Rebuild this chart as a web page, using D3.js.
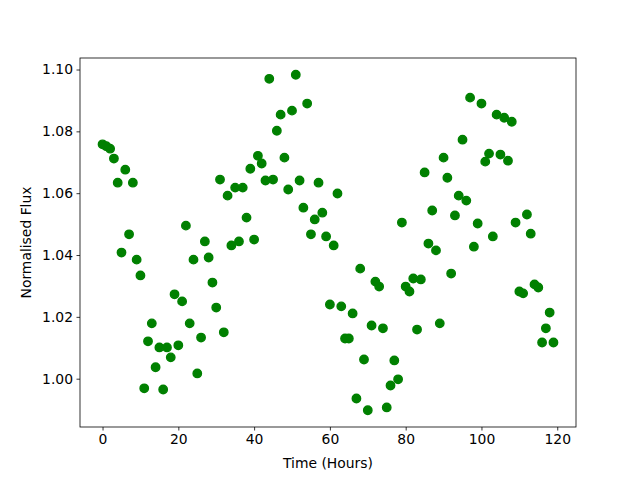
<!DOCTYPE html>
<html>
<head>
<meta charset="utf-8">
<script src="https://cdn.jsdelivr.net/npm/d3@7"></script>
<style>
  html, body { margin: 0; padding: 0; background: #fff; }
  text { font-family: 'DejaVu Sans', sans-serif; fill: #000; }
</style>
</head>
<body>
<div id="chart"></div>
<script>
// hours since start of observation
const hours = d3.range(0, 120);

// normalised flux, one reading per hour
const flux = [
  1.0758, 1.0752, 1.0744, 1.0712, 1.0634, 1.0408, 1.0676, 1.0467, 1.0634, 1.0385,
  1.0334, 0.9969, 1.0121, 1.0179, 1.0037, 1.0101, 0.9965, 1.0101, 1.0069, 1.0273,
  1.0108, 1.0250, 1.0495, 1.0179, 1.0385, 1.0017, 1.0133, 1.0444, 1.0392, 1.0311,
  1.0230, 1.0644, 1.0150, 1.0592, 1.0431, 1.0618, 1.0444, 1.0618, 1.0521, 1.0679,
  1.0450, 1.0721, 1.0696, 1.0641, 1.0970, 1.0644, 1.0802, 1.0854, 1.0715, 1.0612,
  1.0867, 1.0983, 1.0641, 1.0553, 1.0890, 1.0467, 1.0515, 1.0634, 1.0537, 1.0460,
  1.0240, 1.0431, 1.0599, 1.0234, 1.0130, 1.0130, 1.0211, 0.9936, 1.0356, 1.0062,
  0.9898, 1.0172, 1.0314, 1.0298, 1.0163, 0.9907, 0.9978, 1.0059, 0.9998, 1.0505,
  1.0298, 1.0282, 1.0324, 1.0159, 1.0321, 1.0667, 1.0437, 1.0544, 1.0415, 1.0179,
  1.0715, 1.0650, 1.0340, 1.0528, 1.0592, 1.0773, 1.0576, 1.0909, 1.0427, 1.0502,
  1.0890, 1.0702, 1.0728, 1.0460, 1.0854, 1.0725, 1.0844, 1.0705, 1.0831, 1.0505,
  1.0282, 1.0276, 1.0531, 1.0469, 1.0305, 1.0295, 1.0117, 1.0163, 1.0214, 1.0117
];

const xTicks = [0, 20, 40, 60, 80, 100, 120];
const yTicks = [1.00, 1.02, 1.04, 1.06, 1.08, 1.10];

const points = hours.map((h, i) => ({ time: h, flux: flux[i] }));

const margin = { top: 58, right: 64, bottom: 53, left: 80 };
const width = 640 - margin.left - margin.right;
const height = 480 - margin.top - margin.bottom;

const svg = d3
  .select('#chart')
  .append('svg')
  .attr('width', 640)
  .attr('height', 480);

const g = svg
  .append('g')
  .attr('transform', `translate(${margin.left},${margin.top})`);

// matplotlib style 5% padding around the data
function padded(ext) {
  const pad = (ext[1] - ext[0]) * 0.05;
  return [ext[0] - pad, ext[1] + pad];
}

const x = d3
  .scaleLinear()
  .domain(padded(d3.extent(points, (d) => d.time)))
  .range([0, width]);

const y = d3
  .scaleLinear()
  .domain(padded(d3.extent(points, (d) => d.flux)))
  .range([height, 0]);

// Points
g.selectAll('.dot')
  .data(points)
  .enter()
  .append('circle')
  .attr('class', 'dot')
  .attr('cx', (d) => x(d.time))
  .attr('cy', (d) => y(d.flux))
  .attr('r', 4.2)
  .attr('fill', '#008000')
  .attr('stroke', '#008000')
  .attr('stroke-width', 1.4);

// Axes
const xAxis = g
  .append('g')
  .attr('transform', `translate(0,${height})`)
  .call(d3.axisBottom(x).tickValues(xTicks).tickSize(3.5).tickPadding(3.5).tickSizeOuter(0));

const yAxis = g
  .append('g')
  .call(d3.axisLeft(y).tickValues(yTicks).tickFormat(d3.format('.2f')).tickSize(3.5).tickPadding(3.5).tickSizeOuter(0));

[xAxis, yAxis].forEach((a) => {
  a.select('.domain').remove();
  a.selectAll('line').attr('stroke', '#000').attr('stroke-width', 0.8);
  a.selectAll('text').style('font-size', '13.9px').attr('fill', '#000');
});

// Frame
g.append('rect')
  .attr('width', width)
  .attr('height', height)
  .attr('fill', 'none')
  .attr('stroke', '#000')
  .attr('stroke-width', 0.8);

// Axis Labels
g.append('text')
  .attr('x', width / 2)
  .attr('y', height + 41)
  .attr('text-anchor', 'middle')
  .style('font-size', '13.9px')
  .text('Time (Hours)');

g.append('text')
  .attr('transform', 'rotate(-90)')
  .attr('x', -height / 2)
  .attr('y', -49)
  .attr('text-anchor', 'middle')
  .style('font-size', '13.9px')
  .text('Normalised Flux');
</script>
</body>
</html>
